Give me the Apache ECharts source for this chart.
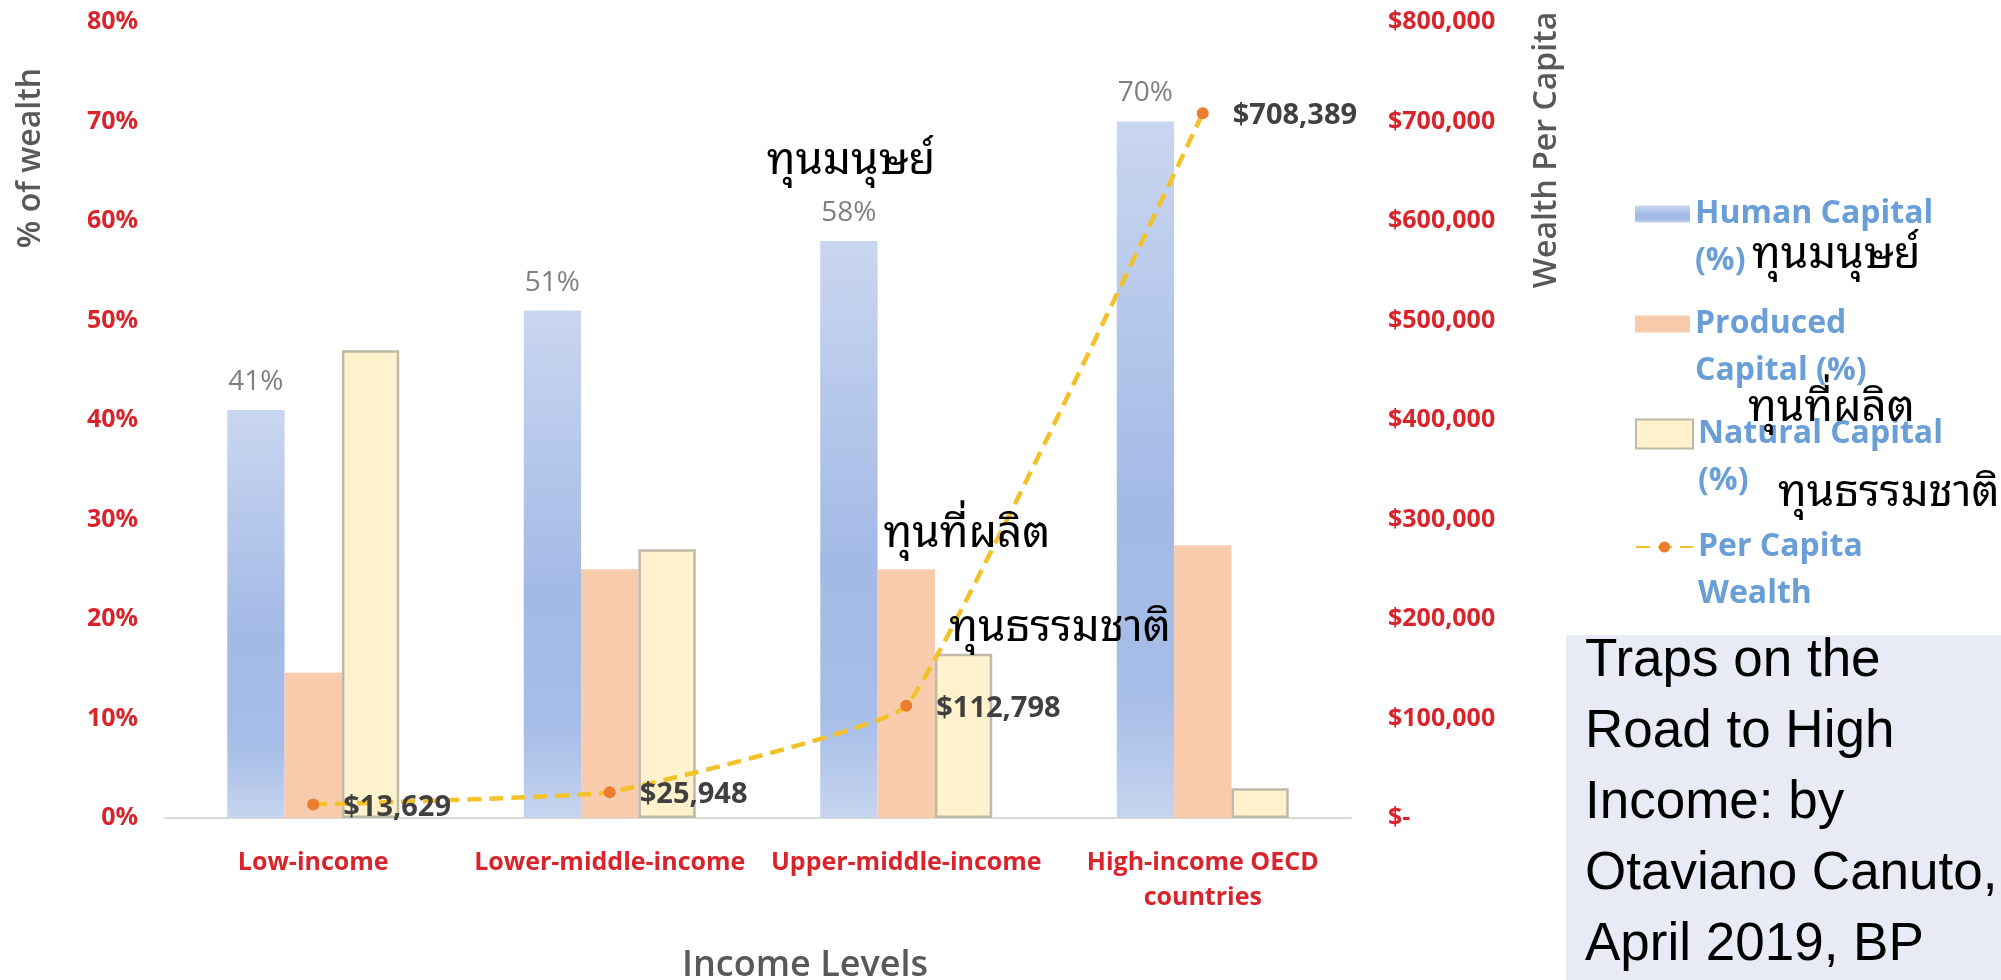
<!DOCTYPE html>
<html>
<head>
<meta charset="utf-8">
<script src="https://cdn.jsdelivr.net/npm/echarts@6/dist/echarts.min.js"></script>
<style>html,body{margin:0;padding:0;background:#fff;}#c{width:2001px;height:980px;}</style>
</head>
<body>
<div id="c"></div>
<script>
// ---- data ----
const categories = ['Low-income', 'Lower-middle-income', 'Upper-middle-income', 'High-income OECD\ncountries'];
const humanCapital = [41, 51, 58, 70];
const producedCapital = [14.6, 25, 25, 27.4];
const naturalCapital = [47, 27, 16.5, 3];
const perCapitaWealth = [13629, 25948, 112798, 708389];
const leftTicks = { min: 0, max: 80, interval: 10 };
const rightTicks = { min: 0, max: 800000, interval: 100000 };
const seriesNames = ['Human Capital (%)', 'Produced Capital (%)', 'Natural Capital (%)', 'Per Capita Wealth'];
const legendLabels = ['Human Capital\n(%)', 'Produced\nCapital (%)', 'Natural Capital\n(%)', 'Per Capita\nWealth'];
const thaiNotes = ['ทุนมนุษย์', 'ทุนที่ผลิต', 'ทุนธรรมชาติ'];
const axisTitles = { left: '% of wealth', right: 'Wealth Per Capita', x: 'Income Levels' };
const sourceText = 'Traps on the\nRoad to High\nIncome: by\nOtaviano Canuto,\nApril 2019, BP';

// ---- styles ----
const F = "'Open Sans', 'Noto Sans', 'DejaVu Sans', sans-serif";
const THAI = "'Noto Sans Thai Looped', 'Loma', 'Garuda', 'Tlwg Typo', 'Norasi', 'Waree', 'Noto Sans Thai', 'Noto Serif Thai', sans-serif";
const RED = '#d9242c';
const GRAY = '#595959';
const LEG = '#6a9ed6';
const fmtMoney = v => v === 0 ? '$-' : '$' + Math.round(v).toLocaleString('en-US');

const chart = echarts.init(document.getElementById('c'), null, { renderer: 'canvas' });

const LH = 47;
function legendFor(i, y1, icon) {
  return Object.assign({
    show: true,
    left: 1635,
    top: y1 - 1.5 * LH,
    orient: 'vertical',
    padding: 0,
    selectedMode: false,
    data: [seriesNames[i]],
    // leading empty line keeps the first text line level with the icon
    formatter: () => '\n' + legendLabels[i],
    textStyle: { fontFamily: F, fontSize: 32, fontWeight: 'bold', color: LEG, lineHeight: LH }
  }, icon);
}

function thai(text, x, y, align) {
  return { type: 'text', z: 10, style: { text: text, x: x, y: y, fontFamily: THAI, fontSize: 44, fill: '#000', align: align, verticalAlign: 'middle' } };
}

const option = {
  backgroundColor: '#ffffff',
  animation: false,
  grid: { left: 165, right: 650, top: 22, bottom: 162, containLabel: false, outerBoundsMode: 'none' },
  legend: [
    legendFor(0, 214, { itemWidth: 55, itemHeight: 17, icon: 'rect' }),
    legendFor(1, 324, { itemWidth: 55, itemHeight: 17, icon: 'rect' }),
    legendFor(2, 434, { itemWidth: 57, itemHeight: 29, icon: 'rect' }),
    legendFor(3, 547, { itemWidth: 57, itemHeight: 14 })
  ],
  xAxis: {
    type: 'category',
    data: categories,
    axisLine: { show: true, lineStyle: { color: '#d9d9d9', width: 2 } },
    axisTick: { show: false },
    axisLabel: { color: RED, fontFamily: F, fontWeight: 'bold', fontSize: 25, lineHeight: 35, margin: 27, interval: 0 },
    name: axisTitles.x,
    nameLocation: 'middle',
    nameGap: 128,
    nameTextStyle: { color: GRAY, fontFamily: F, fontSize: 36, fontWeight: 600, lineHeight: 40, padding: [0, 0, 0, 94] }
  },
  yAxis: [
    {
      type: 'value',
      min: leftTicks.min, max: leftTicks.max, interval: leftTicks.interval,
      splitLine: { show: false },
      axisLine: { show: false }, axisTick: { show: false },
      axisLabel: { formatter: '{value}%', color: RED, fontFamily: F, fontWeight: 'bold', fontSize: 25, margin: 27 },
      name: axisTitles.left,
      nameLocation: 'middle',
      nameGap: 115,
      nameTextStyle: { color: GRAY, fontFamily: F, fontSize: 32, fontWeight: 600, lineHeight: 38, padding: [0, 0, 0, 524] }
    },
    {
      type: 'value',
      position: 'right',
      min: rightTicks.min, max: rightTicks.max, interval: rightTicks.interval,
      splitLine: { show: false },
      axisLine: { show: false }, axisTick: { show: false },
      axisLabel: { formatter: fmtMoney, color: RED, fontFamily: F, fontWeight: 'bold', fontSize: 25, margin: 37 },
      name: axisTitles.right,
      nameLocation: 'middle',
      nameGap: 176,
      nameTextStyle: { color: GRAY, fontFamily: F, fontSize: 32, fontWeight: 600, lineHeight: 40, padding: [0, 0, 0, 540] }
    }
  ],
  series: [
    {
      name: seriesNames[0], type: 'bar', data: humanCapital,
      barGap: '0%', barCategoryGap: '42%',
      itemStyle: {
        color: { type: 'linear', x: 0, y: 0, x2: 0, y2: 1, colorStops: [
          { offset: 0, color: '#c9d6f0' }, { offset: 0.55, color: '#a3bae6' },
          { offset: 0.82, color: '#a6bde7' }, { offset: 1, color: '#c6d4ef' } ] }
      },
      label: { show: true, position: 'top', distance: 14, formatter: p => p.value + '%', color: '#7f7f7f', fontFamily: F, fontSize: 28 }
    },
    {
      name: seriesNames[1], type: 'bar', data: producedCapital,
      itemStyle: { color: '#f8cbad' }
    },
    {
      name: seriesNames[2], type: 'bar', data: naturalCapital,
      itemStyle: { color: '#fff2cc', borderColor: '#bfb9a7', borderWidth: 2.5 }
    },
    {
      name: seriesNames[3], type: 'line', yAxisIndex: 1, data: perCapitaWealth,
      smooth: 0.1, symbol: 'circle', symbolSize: 12, z: 5,
      itemStyle: { color: '#ec7c30' },
      lineStyle: { color: '#f3c22b', width: 4.5, type: [14, 8] },
      label: { show: true, position: 'right', distance: 24, offset: [0, 3], formatter: p => fmtMoney(p.value), color: '#404040', fontFamily: F, fontWeight: 'bold', fontSize: 29 }
    }
  ],
  graphic: [
    { type: 'rect', z: 1, shape: { x: 1566, y: 635, width: 435, height: 345 }, style: { fill: '#e8ebf5' } },
    { type: 'text', z: 2, style: { text: sourceText, x: 1585, y: 626, fontFamily: "'Liberation Sans', Arial, sans-serif", fontSize: 53, lineHeight: 71, fill: '#000', align: 'left', verticalAlign: 'top' } },
    thai(thaiNotes[0], 851, 162, 'center'),
    thai(thaiNotes[1], 967, 535, 'center'),
    thai(thaiNotes[2], 1060, 629, 'center'),
    thai(thaiNotes[0], 1752, 256, 'left'),
    thai(thaiNotes[1], 1748, 409, 'left'),
    thai(thaiNotes[2], 1778, 494, 'left')
  ]
};
chart.setOption(option);
</script>
</body>
</html>
